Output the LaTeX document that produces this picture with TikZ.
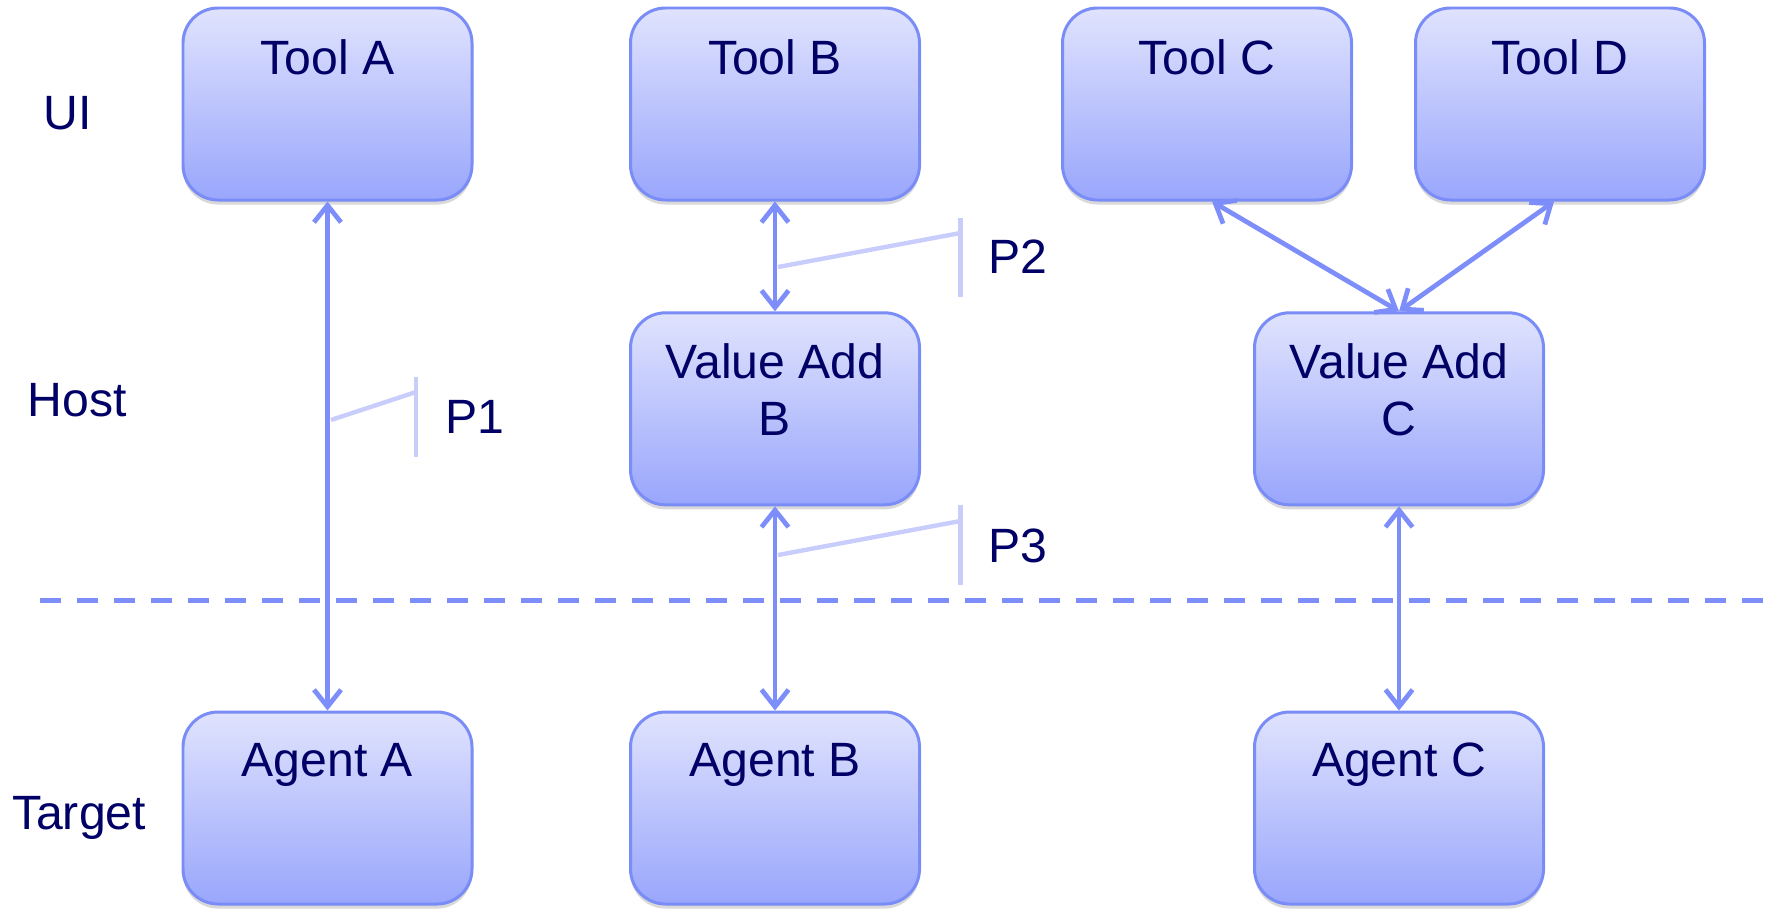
\documentclass[tikz,border=0pt]{standalone}
\usepackage{fontspec}
\setmainfont{Liberation Sans}
\usetikzlibrary{arrows.meta,shadows}
\definecolor{navy}{RGB}{0,0,102}
\definecolor{boxtop}{RGB}{224,227,253}
\definecolor{boxbot}{RGB}{153,166,252}
\definecolor{boxedge}{RGB}{122,140,246}
\definecolor{linkc}{RGB}{125,142,250}
\definecolor{faint}{RGB}{200,205,251}
\begin{document}
\begin{tikzpicture}[font=\fontsize{13.7}{16.2}\selectfont, line join=round, line cap=round,
  box/.style={draw=boxedge, line width=0.85pt, rounded corners=0.35cm, top color=boxtop, bottom color=boxbot,
    minimum width=2.89cm, minimum height=1.92cm, drop shadow={shadow xshift=0pt, shadow yshift=-1.3pt, opacity=0.3}},
  boxtext/.style={anchor=north, inner sep=0pt, yshift=-0.32cm, text=navy, align=center},
  side/.style={text=navy},
  plabel/.style={text=navy, anchor=west, inner sep=0pt},
  link/.style={draw=linkc, line width=1.35pt, {Straight Barb[length=0.17cm,width=0.27cm]}-{Straight Barb[length=0.17cm,width=0.27cm]}},
  pline/.style={draw=faint, line width=1.25pt, line cap=butt}]
\useasboundingbox (0,0) rectangle (17.76,-9.09);
% layer names
\node[side] (ui) at (0.68,-1.13) {UI};
\node[side] (host) at (0.77,-4.00) {Host};
\node[side] (target) at (0.79,-8.18) {Target};
% boxes
\node[box, label={[boxtext]north:Tool A}] (toolA) at (3.275,-1.04) {};
\node[box, label={[boxtext]north:Tool B}] (toolB) at (7.75,-1.04) {};
\node[box, label={[boxtext]north:Tool C}] (toolC) at (12.07,-1.04) {};
\node[box, label={[boxtext]north:Tool D}] (toolD) at (15.60,-1.04) {};
\node[box, label={[boxtext]north:Value Add\\B}] (vaddB) at (7.75,-4.088) {};
\node[box, label={[boxtext]north:Value Add\\C}] (vaddC) at (13.99,-4.088) {};
\node[box, label={[boxtext]north:Agent A}] (agentA) at (3.275,-8.08) {};
\node[box, label={[boxtext]north:Agent B}] (agentB) at (7.75,-8.08) {};
\node[box, label={[boxtext]north:Agent C}] (agentC) at (13.99,-8.08) {};
% host / target border
\draw[linkc, line width=1.3pt, line cap=butt, dash pattern=on 0.21cm off 0.16cm] (0.40,-6.007) -- (17.76,-6.007);
% links
\draw[link] (toolA.south) -- (agentA.north);
\draw[link] (toolB.south) -- (vaddB.north);
\draw[link] (vaddB.south) -- (agentB.north);
\draw[link] ([xshift=0.05cm]toolC.south) -- (vaddC.north);
\draw[link] ([xshift=-0.06cm]toolD.south) -- (vaddC.north);
\draw[link] (vaddC.south) -- (agentC.north);
% protocol marks
\node[plabel] (p1) at (4.45,-4.17) {P1};
\draw[pline] (4.16,-3.77) -- (4.16,-4.57);
\draw[pline] (3.31,-4.20) -- (4.16,-3.92);
\node[plabel] (p2) at (9.88,-2.57) {P2};
\draw[pline] (9.605,-2.175) -- (9.605,-2.97);
\draw[pline] (7.78,-2.67) -- (9.605,-2.33);
\node[plabel] (p3) at (9.88,-5.46) {P3};
\draw[pline] (9.605,-5.05) -- (9.605,-5.845);
\draw[pline] (7.78,-5.55) -- (9.605,-5.21);
\end{tikzpicture}
\end{document}
